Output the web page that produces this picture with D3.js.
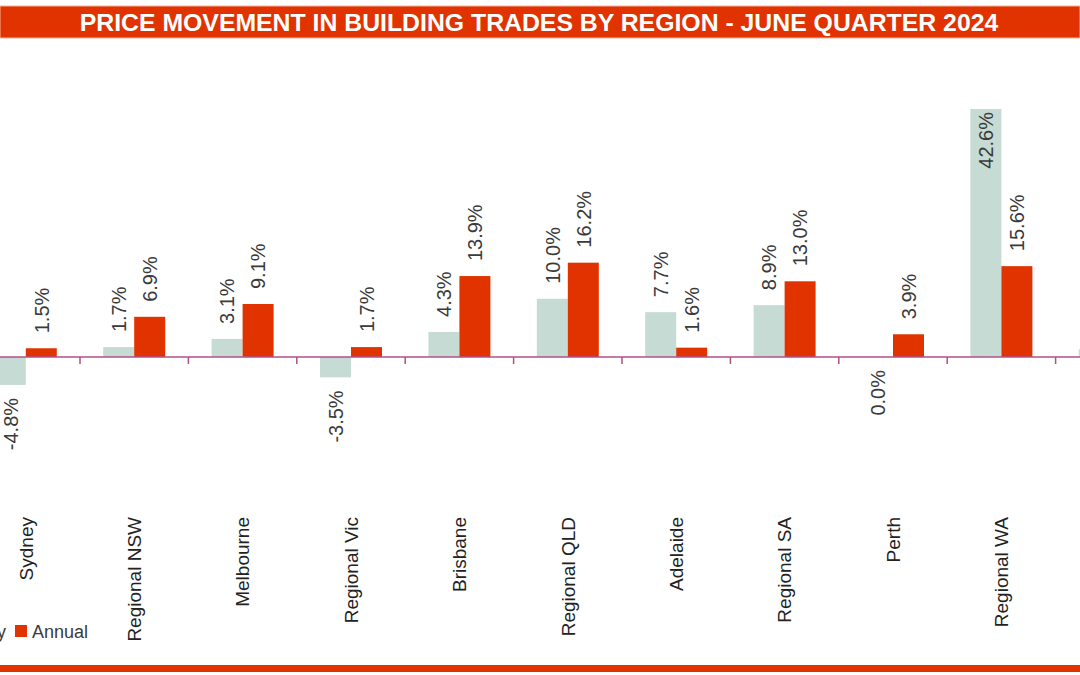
<!DOCTYPE html>
<html>
<head>
<meta charset="utf-8">
<script src="https://cdn.jsdelivr.net/npm/d3@7"></script>
<style>
  html, body { margin: 0; padding: 0; background: #fff; overflow: hidden; }
  svg { display: block; font-family: "Liberation Sans", Arial, sans-serif; }
</style>
</head>
<body>
<div id="chart"></div>
<script>
// chart values
var categories = ["Sydney", "Regional NSW", "Melbourne", "Regional Vic", "Brisbane",
    "Regional QLD", "Adelaide", "Regional SA", "Perth", "Regional WA", "Hobart"];
var quarterly = [-4.8, 1.7, 3.1, -3.5, 4.3, 10.0, 7.7, 8.9, 0.0, 42.6, 1.3];
var annual = [1.5, 6.9, 9.1, 1.7, 13.9, 16.2, 1.6, 13.0, 3.9, 15.6, 5.0];
var seriesNames = ["Quarterly", "Annual"];
var title = "PRICE MOVEMENT IN BUILDING TRADES BY REGION - JUNE QUARTER 2024";

var width = 1080, height = 675;
var colors = { Quarterly: "#c5dbd3", Annual: "#e03300" };
var red = "#e03300", textCol = "#3a3a3a", axisCol = "#b0508a";

var data = categories.map(function (c, i) {
    return { cat: c, values: [{ key: "Quarterly", v: quarterly[i] }, { key: "Annual", v: annual[i] }] };
});

var svg = d3.select("#chart").append("svg")
    .attr("width", width)
    .attr("height", height);

// title band
svg.append("rect")
    .attr("x", 0).attr("y", 6)
    .attr("width", width).attr("height", 32)
    .attr("fill", red)
    .attr("stroke", "#f3b49c").attr("stroke-width", 1);

svg.append("text")
    .attr("x", 539).attr("y", 31)
    .attr("text-anchor", "middle")
    .attr("fill", "#fff")
    .attr("font-weight", "bold")
    .attr("font-size", 24.8)
    .text(title);

// bottom rule
svg.append("rect")
    .attr("x", 0).attr("y", 665)
    .attr("width", width).attr("height", 7)
    .attr("fill", red);

// scales (chart is cropped on both sides, like the source)
var step = 108.4;
var x0 = d3.scaleBand()
    .domain(categories)
    .range([-28.4, -28.4 + step * categories.length])
    .padding(0);

var bw = x0.bandwidth();
var x1 = d3.scaleBand()
    .domain(seriesNames)
    .range([bw / 2 - 31, bw / 2 + 31])
    .padding(0);

var y = d3.scaleLinear()
    .domain([-10, 45])
    .range([415.2, 95]);

// only label categories whose centre is inside the picture
function visible(c) { return x0(c) + bw / 2 < width; }

var g = svg.append("g");

var groups = g.selectAll(".cat")
    .data(data)
    .enter().append("g")
    .attr("class", "cat")
    .attr("transform", function (d) { return "translate(" + x0(d.cat) + ",0)"; });

groups.selectAll("rect")
    .data(function (d) { return d.values; })
    .enter().append("rect")
    .attr("x", function (d) { return x1(d.key); })
    .attr("width", x1.bandwidth())
    .attr("y", function (d) { return y(Math.max(0, d.v)); })
    .attr("height", function (d) { return Math.abs(y(d.v) - y(0)); })
    .attr("fill", function (d) { return colors[d.key]; });

// value labels, rotated
groups.filter(function (d) { return visible(d.cat); })
    .selectAll(".val")
    .data(function (d) { return d.values; })
    .enter().append("text")
    .attr("class", "val")
    .attr("font-size", 20)
    .attr("fill", textCol)
    .attr("dy", "0.36em")
    .attr("text-anchor", function (d) {
        if (d.v > 40) return "end";
        return d.v > 0 ? "start" : "end";
    })
    .attr("transform", function (d) {
        var cx = x1(d.key) + x1.bandwidth() / 2;
        var py;
        if (d.v > 40) py = y(d.v) + 3;           // inside end for the tall bar
        else if (d.v > 0) py = y(d.v) - 15;
        else py = y(d.v) + 13;
        return "translate(" + cx + "," + py + ") rotate(-90)";
    })
    .text(function (d) { return d.v.toFixed(1) + "%"; });

// zero axis with ticks between categories
g.append("line")
    .attr("x1", x0.range()[0]).attr("x2", x0.range()[1])
    .attr("y1", y(0)).attr("y2", y(0))
    .attr("stroke", axisCol).attr("stroke-width", 1.5);

g.selectAll(".tick")
    .data(categories)
    .enter().append("line")
    .attr("class", "tick")
    .attr("x1", function (d) { return x0(d) + bw; })
    .attr("x2", function (d) { return x0(d) + bw; })
    .attr("y1", y(0)).attr("y2", y(0) + 7)
    .attr("stroke", axisCol).attr("stroke-width", 1.5);

// category labels
g.selectAll(".catlabel")
    .data(categories.filter(visible))
    .enter().append("text")
    .attr("class", "catlabel")
    .attr("font-size", 19)
    .attr("fill", "#222")
    .attr("text-anchor", "end")
    .attr("dy", "0.36em")
    .attr("transform", function (d) {
        return "translate(" + (x0(d) + bw / 2) + ",517) rotate(-90)";
    })
    .text(function (d) { return d; });

// legend, also cut at the left edge
var legend = svg.append("g");
var annualItem = legend.append("g").attr("transform", "translate(15,0)");
annualItem.append("rect")
    .attr("x", 0).attr("y", 625).attr("width", 12).attr("height", 12)
    .attr("fill", colors.Annual);
annualItem.append("text")
    .attr("x", 17).attr("y", 638)
    .attr("font-size", 18).attr("fill", textCol)
    .text("Annual");

var qText = legend.append("text")
    .attr("y", 638)
    .attr("font-size", 18).attr("fill", textCol)
    .attr("text-anchor", "end")
    .attr("x", 6)
    .text("Quarterly");
var qw = qText.node().getComputedTextLength();
legend.append("rect")
    .attr("x", 6 - qw - 17).attr("y", 625).attr("width", 12).attr("height", 12)
    .attr("fill", colors.Quarterly);
</script>
</body>
</html>
